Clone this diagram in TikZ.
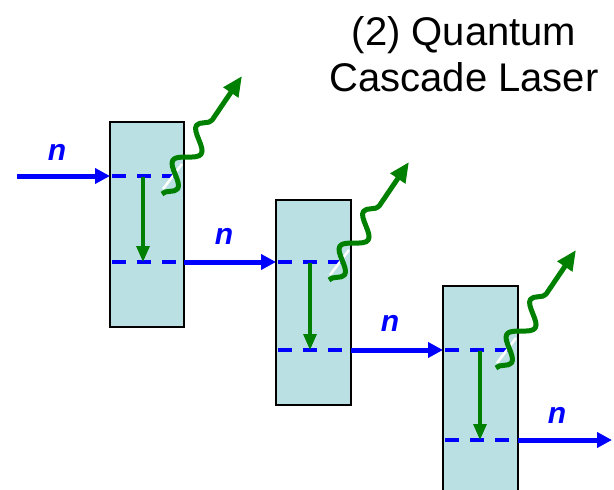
\documentclass[tikz,border=0pt]{standalone}
\usepackage{fontspec}
\setmainfont{Liberation Sans}
\usetikzlibrary{arrows.meta,calc,decorations.pathmorphing}
\definecolor{qfill}{RGB}{187,224,227}
\definecolor{qblue}{RGB}{0,0,255}
\definecolor{qgreen}{RGB}{0,128,0}
\begin{document}
\begin{tikzpicture}[x=1pt,y=-1pt,
  qbox/.style={draw=black, line width=2.6pt, fill=qfill, rectangle, minimum width=74pt, anchor=north west, inner sep=0pt, outer sep=0pt},
  level/.style={draw=qblue, line width=4pt, dash pattern=on 14pt off 11pt},
  flow/.style={draw=qblue, line width=5pt, -{Triangle[length=15pt,width=15pt]}},
  drop/.style={draw=qgreen, line width=3.2pt, -{Triangle[length=16pt,width=13pt]}},
  photon/.style={draw=qgreen, line width=5pt, line join=round, decorate,
    decoration={snake, segment length=42pt, amplitude=10pt, post length=38pt, mirror},
    -{Triangle[length=20pt,width=17pt]}},
  streak/.style={draw=white, line width=2.5pt},
  nlab/.style={text=qblue, font=\fontsize{30}{36}\selectfont\bfseries\itshape, inner sep=0pt},
  title/.style={font=\fontsize{40}{46}\selectfont, inner sep=0pt, anchor=base}]
\useasboundingbox (0,0) rectangle (614,490);

% boxes
\node[qbox, minimum height=205pt] (b1) at (110,122) {};
\node[qbox, minimum height=205pt, minimum width=75pt] (b2) at (276,200) {};
\node[qbox, minimum height=205pt, minimum width=75pt] (b3) at (443,286) {};

% level coordinates
\coordinate (in)   at (17,176);
\coordinate (b1ul) at (110,176); \coordinate (b1ur) at (184,176);
\coordinate (b1ll) at (110,262); \coordinate (b1lr) at (184,262);
\coordinate (b2ul) at (276,262); \coordinate (b2ur) at (351,262);
\coordinate (b2ll) at (276,350); \coordinate (b2lr) at (351,350);
\coordinate (b3ul) at (443,350); \coordinate (b3ur) at (518,350);
\coordinate (b3ll) at (443,440); \coordinate (b3lr) at (518,440);
\coordinate (out)  at (612,440);

% levels
\draw[level] ($(b1ul)+(2,0)$) -- ($(b1ur)+(-1,0)$);
\draw[level] ($(b1ll)+(2,0)$) -- ($(b1lr)+(-1,0)$);
\draw[level] ($(b2ul)+(2,0)$) -- ($(b2ur)+(-1,0)$);
\draw[level] ($(b2ll)+(2,0)$) -- ($(b2lr)+(-1,0)$);
\draw[level] ($(b3ul)+(2,0)$) -- ($(b3ur)+(-1,0)$);
\draw[level] ($(b3ll)+(2,0)$) -- ($(b3lr)+(-1,0)$);

% electron flow
\draw[flow] (in) -- (b1ul);
\draw[flow] (b1lr) -- (b2ul);
\draw[flow] (b2lr) -- (b3ul);
\draw[flow] (b3lr) -- (out);

% transitions
\coordinate (d1a) at (143,177); \coordinate (d1b) at (143,262);
\coordinate (d2a) at (310,263); \coordinate (d2b) at (310,350);
\coordinate (d3a) at (480,351); \coordinate (d3b) at (480,440);
\draw[drop] (d1a) -- (d1b);
\draw[drop] (d2a) -- (d2b);
\draw[drop] (d3a) -- (d3b);

% photons
\foreach \i in {1,2,3}{
  \draw[streak] ($(b\i ur)+(-21,13)$) -- ($(b\i ur)+(-2,-12)$);
  \coordinate (p\i s) at ($(b\i ur)+(-22,18)$);
  \coordinate (p\i e) at ($(b\i ur)+(58,-100)$);
  \draw[photon] (p\i s) -- (p\i e);
}

% labels
\node[nlab] (n1) at (57,152) {n};
\node[nlab] (n2) at (224,236) {n};
\node[nlab] (n3) at (390,323) {n};
\node[nlab] (n4) at (557,415) {n};

\node[title] (t1) at (464,45) {(2) Quantum};
\node[title] (t2) at (464,91) {Cascade Laser};
\end{tikzpicture}
\end{document}
